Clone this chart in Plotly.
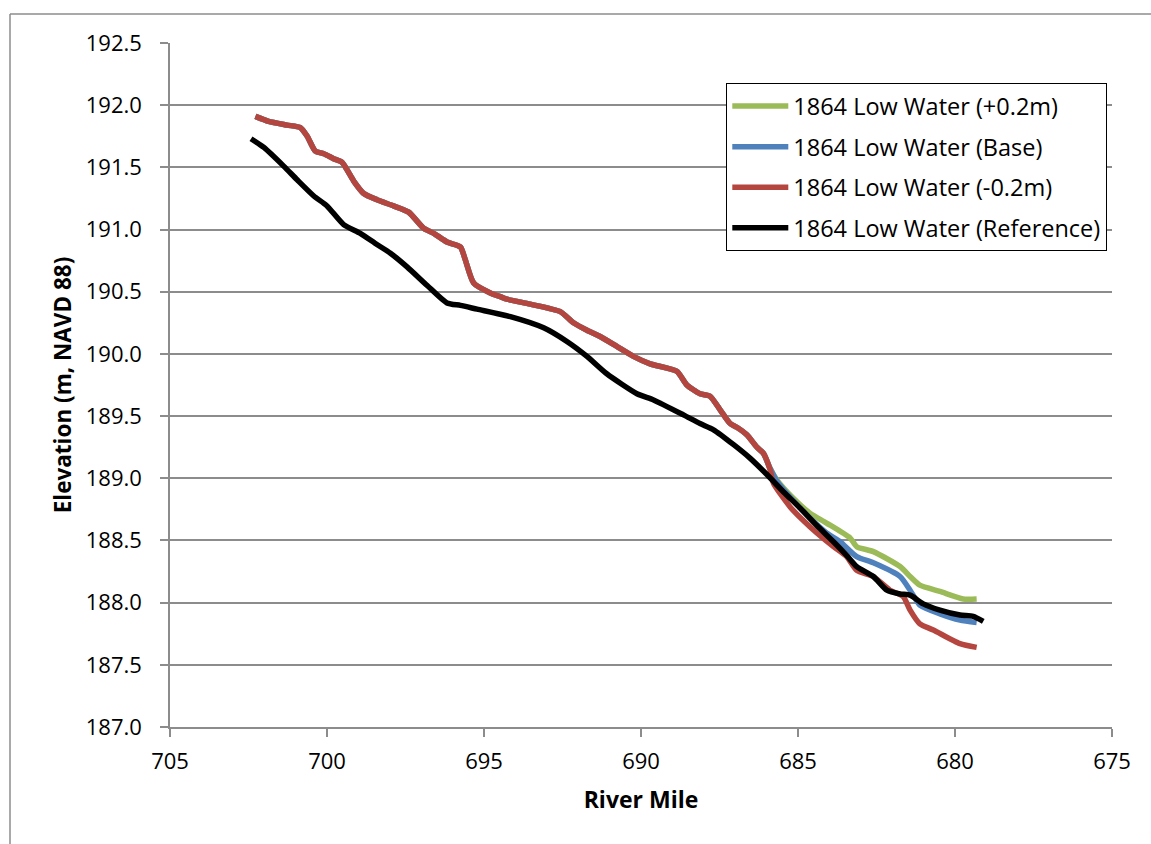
import plotly.graph_objects as go

# ---- data ----
# shared upstream reach (all three model runs coincide here)
miles_shared = [702.28, 701.86, 701.27, 700.85, 700.63, 700.37, 700.10, 699.79, 699.52, 699.15,
                698.83, 698.41, 697.88, 697.40, 696.92, 696.60, 696.18, 695.75, 695.60, 695.33,
                694.80, 694.48, 694.27, 693.53, 692.57, 692.15, 691.72, 691.30, 690.77, 690.24,
                689.71, 688.86, 688.54, 688.12, 687.80, 687.48, 687.16, 686.95, 686.63, 686.31,
                686.10]
elev_shared = [191.91, 191.87, 191.84, 191.82, 191.75, 191.63, 191.61, 191.57, 191.54, 191.39,
               191.29, 191.24, 191.19, 191.14, 191.01, 190.97, 190.90, 190.86, 190.76, 190.57,
               190.49, 190.46, 190.44, 190.40, 190.34, 190.25, 190.19, 190.14, 190.06, 189.98,
               189.92, 189.86, 189.75, 189.68, 189.66, 189.55, 189.44, 189.41, 189.35, 189.25,
               189.20]

miles_plus_tail = [685.89, 685.68, 685.15, 684.62, 684.09, 683.34, 683.13, 682.60, 681.75, 681.43,
                   681.12, 680.48, 679.74, 679.31]
elev_plus_tail = [189.08, 188.99, 188.84, 188.72, 188.64, 188.52, 188.45, 188.41, 188.29, 188.21,
                  188.14, 188.09, 188.03, 188.03]

miles_base_tail = [685.89, 685.68, 685.15, 684.62, 684.09, 683.66, 683.13, 682.60, 681.75, 681.43,
                   681.12, 680.48, 679.84, 679.31]
elev_base_tail = [189.08, 188.98, 188.82, 188.68, 188.56, 188.49, 188.37, 188.32, 188.21, 188.10,
                  187.98, 187.91, 187.86, 187.84]

miles_minus_tail = [685.89, 685.78, 685.25, 684.83, 684.40, 683.87, 683.45, 683.13, 682.60, 682.07,
                    681.65, 681.43, 681.12, 680.69, 679.84, 679.31]
elev_minus_tail = [189.07, 188.96, 188.77, 188.66, 188.56, 188.45, 188.37, 188.26, 188.21, 188.10,
                   188.05, 187.94, 187.83, 187.78, 187.67, 187.64]

miles_ref = [702.42, 702.01, 701.38, 700.95, 700.42, 700.00, 699.47, 698.94, 698.41, 697.98,
             697.45, 696.81, 696.18, 695.75, 695.22, 694.16, 693.10, 692.36, 691.72, 691.09,
             690.13, 689.60, 688.65, 688.12, 687.69, 687.05, 686.52, 685.99, 685.46, 684.93,
             684.40, 683.87, 683.45, 683.13, 682.60, 682.17, 681.75, 681.43, 681.01, 680.48,
             679.84, 679.42, 679.10]
elev_ref = [191.73, 191.66, 191.51, 191.40, 191.27, 191.19, 191.04, 190.97, 190.88, 190.81,
            190.70, 190.55, 190.41, 190.39, 190.36, 190.30, 190.21, 190.10, 189.98, 189.84,
            189.68, 189.63, 189.51, 189.44, 189.39, 189.27, 189.16, 189.03, 188.89, 188.76,
            188.62, 188.49, 188.38, 188.29, 188.21, 188.10, 188.07, 188.06, 187.99, 187.94,
            187.90, 187.89, 187.85]

series_names = ["1864 Low Water (+0.2m)", "1864 Low Water (Base)",
                "1864 Low Water (-0.2m)", "1864 Low Water (Reference)"]
series_colors = ["#9BBB59", "#4F81BD", "#B5463F", "#000000"]

x_ticks = [705, 700, 695, 690, 685, 680, 675]
y_ticks = [187.0, 187.5, 188.0, 188.5, 189.0, 189.5, 190.0, 190.5, 191.0, 191.5, 192.0, 192.5]

series_x = [miles_shared + miles_plus_tail, miles_shared + miles_base_tail,
            miles_shared + miles_minus_tail, miles_ref]
series_y = [elev_shared + elev_plus_tail, elev_shared + elev_base_tail,
            elev_shared + elev_minus_tail, elev_ref]

FONT = "Open Sans, Carlito, Calibri, sans-serif"
GRID = "#8C8C8C"

fig = go.Figure()
for name, color, xs, ys in zip(series_names, series_colors, series_x, series_y):
    fig.add_trace(go.Scatter(
        x=xs, y=ys, mode="lines", name=name, legendgroup=name,
        line=dict(color=color, width=5.5, shape="spline", smoothing=0.6),
    ))

W, H = 1151, 844
ML, MR, MT, MB = 170, 39, 43, 117
pw, ph = W - ML - MR, H - MT - MB

fig.update_layout(
    width=W, height=H,
    margin=dict(l=ML, r=MR, t=MT, b=MB, pad=0),
    paper_bgcolor="white", plot_bgcolor="white",
    font=dict(family=FONT, size=22, color="black"),
    showlegend=True,
    legend=dict(
        x=(726 - ML) / pw, y=(H - MB - 83) / ph, xanchor="left", yanchor="top",
        bordercolor="black", borderwidth=1.3, bgcolor="white",
        font=dict(family=FONT, size=23.5, color="black"),
        traceorder="grouped", tracegroupgap=7, itemwidth=56,
    ),
    xaxis=dict(
        title=dict(text="<b>River Mile</b>", font=dict(family=FONT, size=23), standoff=18),
        range=[705, 675], tickmode="array", tickvals=x_ticks,
        ticktext=[str(v) for v in x_ticks],
        showgrid=False, zeroline=False,
        showline=True, linecolor=GRID, linewidth=1.5,
        ticks="outside", ticklen=8, tickcolor=GRID, tickwidth=1.5,
        ticklabelstandoff=6,
    ),
    yaxis=dict(
        title=dict(text="<b>Elevation (m, NAVD 88)</b>", font=dict(family=FONT, size=22.5), standoff=8),
        range=[187.0, 192.5], tickmode="array", tickvals=y_ticks,
        ticktext=[f"{v:.1f}" for v in y_ticks],
        showgrid=True, gridcolor=GRID, gridwidth=1.5, zeroline=False,
        showline=True, linecolor=GRID, linewidth=1.5,
        ticks="outside", ticklen=8, tickcolor=GRID, tickwidth=1.5,
        ticklabelstandoff=14,
    ),
)

# outer chart-area frame (only left and top edges visible in the reference)
fx0 = (10 - ML) / pw
fy0 = (H - MB - 14) / ph
fig.add_shape(type="line", xref="paper", yref="paper", x0=fx0, x1=fx0, y0=fy0, y1=-MB / ph,
              line=dict(color=GRID, width=1.5))
fig.add_shape(type="line", xref="paper", yref="paper", x0=fx0, x1=(W - ML) / pw, y0=fy0, y1=fy0,
              line=dict(color=GRID, width=1.5))

fig.write_html("out.html", config={"displayModeBar": False},
               post_script="document.body.style.margin='0';document.body.style.overflow='hidden';")
